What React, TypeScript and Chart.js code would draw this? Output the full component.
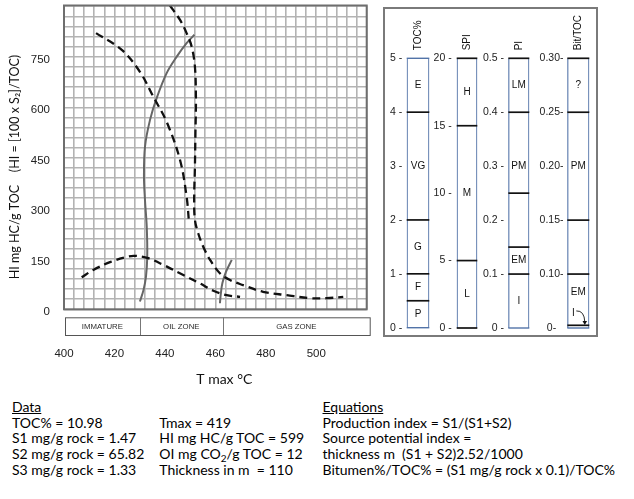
import React, { useEffect, useRef } from 'react';
import { Chart, registerables } from 'chart.js';

Chart.register(...registerables);

const SANS = '"Liberation Sans", Arial, sans-serif';
const TEXT = 'Lato, "Open Sans", sans-serif';
const BLUE = '#5273a8';

// ---------- main chart: HI vs Tmax ----------
const X_TICK_LABELS = [400, 420, 440, 460, 480, 500];
const Y_TICK_LABELS = [0, 150, 300, 450, 600, 750];
const ZONES = ['IMMATURE', 'OIL ZONE', 'GAS ZONE'];
const ZONE_LIMITS = [400, 430, 463, 520];

// [Tmax °C, HI]
const DASH_LEFT: [number, number][] = [
  [412.7, 821], [422.9, 771], [430.1, 706], [435.4, 632], [440.7, 557],
  [446.0, 444], [448.6, 335], [449.6, 254],
];
const DASH_RIGHT: [number, number][] = [
  [442.0, 903], [446.0, 860], [448.6, 821], [450.6, 781], [451.9, 721],
  [452.3, 622], [452.1, 523], [451.9, 424], [451.6, 325], [451.9, 266],
  [453.2, 226], [455.2, 186], [457.9, 147], [461.8, 107], [465.8, 87],
  [471.0, 72], [478.9, 52], [488.3, 42], [497.5, 33], [504.1, 33], [510.7, 37],
];
const DASH_BELL: [number, number][] = [
  [407.0, 95], [411.6, 117], [418.5, 141], [424.9, 156], [428.0, 159],
  [433.4, 152], [439.4, 132], [447.3, 102], [453.9, 77], [459.2, 55],
  [464.5, 42], [469.8, 37],
];
const SOLID_MAIN: [number, number][] = [
  [451.7, 816], [448.6, 791], [444.7, 751], [440.7, 702], [436.7, 627],
  [434.1, 563], [432.1, 483], [431.7, 394], [432.1, 325], [432.8, 246],
  [433.0, 156], [432.5, 97], [431.5, 57], [430.1, 23],
];
const SOLID_SMALL: [number, number][] = [
  [466.5, 147], [464.2, 111], [462.8, 78], [462.2, 48], [461.8, 18],
];

// ---------- right panel columns ----------
const TOC_TICKS = [0, 1, 2, 3, 4, 5];
const TOC_BOUNDS = [0, 0.5, 1, 2, 4, 5];
const TOC_CLASSES = ['P', 'F', 'G', 'VG', 'E'];

const SPI_TICKS = [0, 5, 10, 15, 20];
const SPI_BOUNDS = [0, 5, 15, 20];
const SPI_CLASSES = ['L', 'M', 'H'];

const PI_TICKS = [0, 0.1, 0.2, 0.3, 0.4, 0.5];
const PI_BOUNDS = [0, 0.1, 0.15, 0.25, 0.4, 0.5];
const PI_CLASSES = ['I', 'EM', '', 'PM', 'LM'];
const PI_LABEL_AT: (number | null)[] = [null, null, null, 0.3, null];

const BIT_TICKS = [0, 0.1, 0.15, 0.2, 0.25, 0.3];
const BIT_BOUNDS = [0, 0.005, 0.1, 0.15, 0.25, 0.3];
const BIT_CLASSES = ['I', 'EM', '', 'PM', '?'];
const BIT_LABEL_AT: (number | null)[] = [0.027, 0.067, null, null, null];

// ---------- text ----------
const DATA_LINES = ['TOC% = 10.98', 'S1 mg/g rock = 1.47', 'S2 mg/g rock = 65.82', 'S3 mg/g rock = 1.33'];
const EQUATION_LINES = [
  'Production index = S1/(S1+S2)',
  'Source potential index =',
  'thickness m  (S1 + S2)2.52/1000',
  'Bitumen%/TOC% = (S1 mg/g rock x 0.1)/TOC%',
];

const bitIndex = (v: number) => {
  for (let i = 0; i < BIT_TICKS.length - 1; i++) {
    if (v <= BIT_TICKS[i + 1]) return i + (v - BIT_TICKS[i]) / (BIT_TICKS[i + 1] - BIT_TICKS[i]);
  }
  return BIT_TICKS.length - 1;
};

function MainChart() {
  const ref = useRef<HTMLCanvasElement>(null);
  useEffect(() => {
    const toXY = (pts: [number, number][]) => pts.map(([x, y]) => ({ x, y }));
    const dashed = (pts: [number, number][]) => ({
      data: toXY(pts), showLine: true, borderColor: '#111', borderWidth: 2.3,
      borderDash: [8, 5], pointRadius: 0, tension: 0.35, fill: false,
    });
    const solid = (pts: [number, number][]) => ({
      data: toXY(pts), showLine: true, borderColor: '#666', borderWidth: 2,
      pointRadius: 0, tension: 0.35, fill: false,
    });
    const framePlugin = {
      id: 'frameZones',
      afterDraw(chart: any) {
        const { ctx, chartArea: a, scales } = chart;
        const x = scales.x;
        ctx.save();
        ctx.strokeStyle = '#6e6e6e';
        ctx.lineWidth = 2;
        ctx.strokeRect(a.left, a.top, a.right - a.left, a.bottom - a.top);
        const top = a.bottom + 8;
        const h = 17.7;
        const l = x.getPixelForValue(ZONE_LIMITS[0]) + 1;
        const r = x.getPixelForValue(ZONE_LIMITS[ZONE_LIMITS.length - 1]) + 3;
        ctx.lineWidth = 1;
        ctx.strokeStyle = '#555';
        ctx.strokeRect(l + 0.5, top + 0.5, r - l, h);
        ctx.font = `7.8px ${SANS}`;
        ctx.fillStyle = '#2a2a2a';
        ctx.textAlign = 'center';
        ctx.textBaseline = 'middle';
        for (let i = 0; i < ZONES.length; i++) {
          const x0 = i === 0 ? l : x.getPixelForValue(ZONE_LIMITS[i]);
          const x1 = i === ZONES.length - 1 ? r : x.getPixelForValue(ZONE_LIMITS[i + 1]);
          if (i > 0) {
            ctx.strokeStyle = '#777';
            ctx.beginPath();
            ctx.moveTo(Math.round(x0) + 0.5, top);
            ctx.lineTo(Math.round(x0) + 0.5, top + h);
            ctx.stroke();
          }
          ctx.fillText(ZONES[i], (x0 + x1) / 2, top + h / 2 + 1);
        }
        ctx.restore();
      },
    };
    const chart = new Chart(ref.current as HTMLCanvasElement, {
      type: 'scatter',
      data: {
        datasets: [
          dashed(DASH_LEFT), dashed(DASH_RIGHT), dashed(DASH_BELL),
          solid(SOLID_MAIN), solid(SOLID_SMALL),
        ] as any,
      },
      options: {
        responsive: false,
        animation: false,
        events: [],
        layout: { padding: { top: 5.5, right: 13.3, left: 0, bottom: 0 } },
        scales: {
          x: {
            type: 'linear', min: 400, max: 520,
            afterFit: (s: any) => { s.height = 85.7; s.paddingLeft = 0; s.paddingRight = 0; },
            grid: { color: '#b3b3b3', lineWidth: 1.6, drawTicks: false },
            border: { display: false },
            ticks: {
              stepSize: 4, autoSkip: false, maxRotation: 0, padding: 37.8,
              font: { family: SANS, size: 11.5 }, color: '#222',
              callback: (v: any) => (X_TICK_LABELS.includes(Number(v)) ? String(v) : ''),
            },
            title: {
              display: true, text: '     T max °C', color: '#111',
              font: { family: TEXT, size: 14 }, padding: { top: 0, bottom: 7.3 },
            },
          },
          y: {
            type: 'linear', min: 0, max: 903,
            afterFit: (s: any) => { s.width = 64; s.paddingTop = 0; s.paddingBottom = 0; },
            grid: { color: '#b3b3b3', lineWidth: 1.6, drawTicks: false },
            border: { display: false },
            ticks: {
              stepSize: 30, autoSkip: false, padding: 14, labelOffset: 2.5,
              font: { family: SANS, size: 11.5 }, color: '#222',
              callback: (v: any) => (Y_TICK_LABELS.includes(Number(v)) ? String(v) : ''),
            },
            title: {
              display: true, text: 'HI mg HC/g TOC    (HI = [100 x S\u2082]/TOC)      ', color: '#111',
              font: { family: TEXT, size: 12.5 }, padding: { top: 7, bottom: 0 },
            },
          },
        },
        plugins: { legend: { display: false }, tooltip: { enabled: false } },
      },
      plugins: [framePlugin],
    } as any);
    return () => chart.destroy();
  }, []);
  return (
    <canvas ref={ref} width={380} height={395}
      style={{ position: 'absolute', left: 0, top: 0, width: 380, height: 395 }} />
  );
}

type ColSpec = {
  title: string;
  left: number; width: number; barLeft: number; barRight: number; bottomPx: number;
  ticks: number[]; axis: number[]; bounds: number[]; classes: string[];
  labelAt?: (number | null)[];
  toAxis: (v: number) => number;
  tickLabel: (v: number) => string;
  topBlack: boolean; bottomBlack: boolean;
  pad: number; crossAlign: 'near' | 'center';
  pointer?: number;
};

const COL_TOP = 58.3;
const COL_H = 340;

const COLUMNS: ColSpec[] = [
  {
    title: 'TOC%', left: 385, width: 47, barLeft: 406.7, barRight: 429.3, bottomPx: 327.7,
    ticks: TOC_TICKS, axis: TOC_TICKS, bounds: TOC_BOUNDS, classes: TOC_CLASSES,
    toAxis: (v) => v, tickLabel: (v) => `${v} -`,
    topBlack: false, bottomBlack: false, pad: 4.5, crossAlign: 'near',
  },
  {
    title: 'SPI', left: 432, width: 48, barLeft: 456.7, barRight: 477.3, bottomPx: 328,
    ticks: SPI_TICKS, axis: SPI_TICKS, bounds: SPI_BOUNDS, classes: SPI_CLASSES,
    toAxis: (v) => v, tickLabel: (v) => `${v} -`,
    topBlack: true, bottomBlack: true, pad: 5, crossAlign: 'near',
  },
  {
    title: 'PI', left: 480, width: 52, barLeft: 508.3, barRight: 529.3, bottomPx: 328,
    ticks: PI_TICKS, axis: PI_TICKS, bounds: PI_BOUNDS, classes: PI_CLASSES, labelAt: PI_LABEL_AT,
    toAxis: (v) => v, tickLabel: (v) => (v === 0 ? '0 -' : `${v.toFixed(1)} -`),
    topBlack: true, bottomBlack: false, pad: 4.3, crossAlign: 'near',
  },
  {
    title: 'Bit/TOC', left: 532, width: 62, barLeft: 567.3, barRight: 589.3, bottomPx: 328,
    ticks: BIT_TICKS, axis: BIT_TICKS.map(bitIndex), bounds: BIT_BOUNDS, classes: BIT_CLASSES,
    labelAt: BIT_LABEL_AT,
    toAxis: bitIndex,
    tickLabel: (i) => {
      const v = BIT_TICKS[Math.round(i)];
      return (v === 0 ? '0' : v.toFixed(2)) + '-';
    },
    topBlack: true, bottomBlack: false, pad: 3.8, crossAlign: 'center', pointer: 0,
  },
];

function ColumnChart({ spec }: { spec: ColSpec }) {
  const ref = useRef<HTMLCanvasElement>(null);
  useEffect(() => {
    const colPlugin = {
      id: 'colDeco',
      afterDatasetsDraw(chart: any) {
        const { ctx, chartArea: a, scales } = chart;
        const y = scales.y;
        const cx = (a.left + a.right) / 2;
        ctx.save();
        spec.bounds.forEach((b, i) => {
          const py = y.getPixelForValue(spec.toAxis(b));
          const edge = i === 0 || i === spec.bounds.length - 1;
          const black = !edge || (i === 0 ? spec.bottomBlack : spec.topBlack);
          ctx.strokeStyle = black ? '#111' : BLUE;
          ctx.lineWidth = black ? 1.7 : 1.4;
          ctx.beginPath();
          ctx.moveTo(a.left, py);
          ctx.lineTo(a.right, py);
          ctx.stroke();
        });
        ctx.fillStyle = '#111';
        ctx.font = `10px ${SANS}`;
        ctx.textAlign = 'center';
        ctx.textBaseline = 'middle';
        spec.classes.forEach((c, i) => {
          if (!c) return;
          const at = spec.labelAt && spec.labelAt[i] != null
            ? (spec.labelAt[i] as number)
            : (spec.bounds[i] + spec.bounds[i + 1]) / 2;
          const py = y.getPixelForValue(spec.toAxis(at));
          if (spec.pointer === i) {
            const lx = cx - 5;
            ctx.fillText(c, lx, py);
            ctx.strokeStyle = '#111';
            ctx.lineWidth = 0.9;
            ctx.beginPath();
            ctx.moveTo(lx + 3, py - 2.5);
            ctx.quadraticCurveTo(lx + 11, py - 3, lx + 11.5, py + 8.5);
            ctx.stroke();
            ctx.beginPath();
            ctx.moveTo(lx + 11.5, py + 11.5);
            ctx.lineTo(lx + 9.2, py + 7.5);
            ctx.lineTo(lx + 13.8, py + 7.5);
            ctx.closePath();
            ctx.fill();
          } else {
            ctx.fillText(c, cx, py);
          }
        });
        ctx.translate(cx, a.top - 8);
        ctx.rotate(-Math.PI / 2);
        ctx.font = `10px ${SANS}`;
        ctx.textAlign = 'left';
        ctx.fillText(spec.title, 0, 0);
        ctx.restore();
      },
    };
    const axisMin = spec.axis[0];
    const axisMax = spec.axis[spec.axis.length - 1];
    const chart = new Chart(ref.current as HTMLCanvasElement, {
      type: 'bar',
      data: {
        labels: [spec.title],
        datasets: spec.bounds.slice(0, -1).map((b, i) => ({
          label: spec.classes[i] || ' ',
          data: [[spec.toAxis(b), spec.toAxis(spec.bounds[i + 1])]],
          backgroundColor: '#ffffff',
          borderColor: BLUE,
          borderWidth: { left: 1.4, right: 1.4, top: 0, bottom: 0 },
          borderSkipped: false,
          grouped: false,
          barPercentage: 1,
          categoryPercentage: 1,
        })),
      },
      options: {
        responsive: false,
        animation: false,
        events: [],
        layout: {
          padding: {
            top: COL_TOP, bottom: COL_H - spec.bottomPx, left: 0,
            right: spec.left + spec.width - spec.barRight,
          },
        },
        scales: {
          x: { display: false },
          y: {
            type: 'linear', min: axisMin, max: axisMax,
            afterBuildTicks: (s: any) => { s.ticks = spec.axis.map((v) => ({ value: v })); },
            afterFit: (s: any) => { s.width = spec.barLeft - spec.left; s.paddingTop = 0; s.paddingBottom = 0; },
            grid: { display: false, drawTicks: false },
            border: { display: false },
            ticks: {
              autoSkip: false, padding: spec.pad, crossAlign: spec.crossAlign,
              font: { family: SANS, size: 10.5 }, color: '#222',
              callback: (v: any) => spec.tickLabel(Number(v)),
            },
          },
        },
        plugins: { legend: { display: false }, tooltip: { enabled: false } },
      },
      plugins: [colPlugin],
    } as any);
    return () => chart.destroy();
  }, [spec]);
  return (
    <canvas ref={ref} width={spec.width} height={COL_H}
      style={{ position: 'absolute', left: spec.left, top: 0, width: spec.width, height: COL_H }} />
  );
}

const ROW_BASELINES = [412.7, 428.3, 443.3, 459.3, 475];
const TEXT_COLS = [12, 159.3, 322.5];

function Line({ x, row, children, underline }: { x: number; row: number; children: React.ReactNode; underline?: boolean }) {
  return (
    <div style={{
      position: 'absolute', left: x, top: ROW_BASELINES[row] - 13.4, whiteSpace: 'pre',
      font: `14px ${TEXT}`, lineHeight: '16px', color: '#000',
      textDecoration: underline ? 'underline' : 'none',
    }}>{children}</div>
  );
}

function TextBlock() {
  const sub = (s: string) => (
    <span style={{ fontSize: '10px', verticalAlign: '-3px', lineHeight: 0 }}>{s}</span>
  );
  return (
    <>
      <Line x={TEXT_COLS[0]} row={0} underline>Data</Line>
      {DATA_LINES.map((t, i) => <Line key={t} x={TEXT_COLS[0]} row={i + 1}>{t}</Line>)}
      <Line x={TEXT_COLS[1]} row={1}>Tmax = 419</Line>
      <Line x={TEXT_COLS[1]} row={2}>HI mg HC/g TOC = 599</Line>
      <Line x={TEXT_COLS[1]} row={3}>OI mg CO{sub('2')}/g TOC = 12</Line>
      <Line x={TEXT_COLS[1]} row={4}>Thickness in m  = 110</Line>
      <Line x={TEXT_COLS[2]} row={0} underline>Equations</Line>
      {EQUATION_LINES.map((t, i) => <Line key={t} x={TEXT_COLS[2]} row={i + 1}>{t}</Line>)}
    </>
  );
}

export default function App() {
  return (
    <div style={{ position: 'fixed', left: 0, top: 0, width: 634, height: 499, background: '#fff', overflow: 'hidden' }}>
      <MainChart />
      <div style={{
        position: 'absolute', left: 383, top: 7, width: 211.3, height: 325.7,
        border: '2px solid #7a7a7a',
      }} />
      {COLUMNS.map((c) => <ColumnChart key={c.title} spec={c} />)}
      <TextBlock />
    </div>
  );
}
